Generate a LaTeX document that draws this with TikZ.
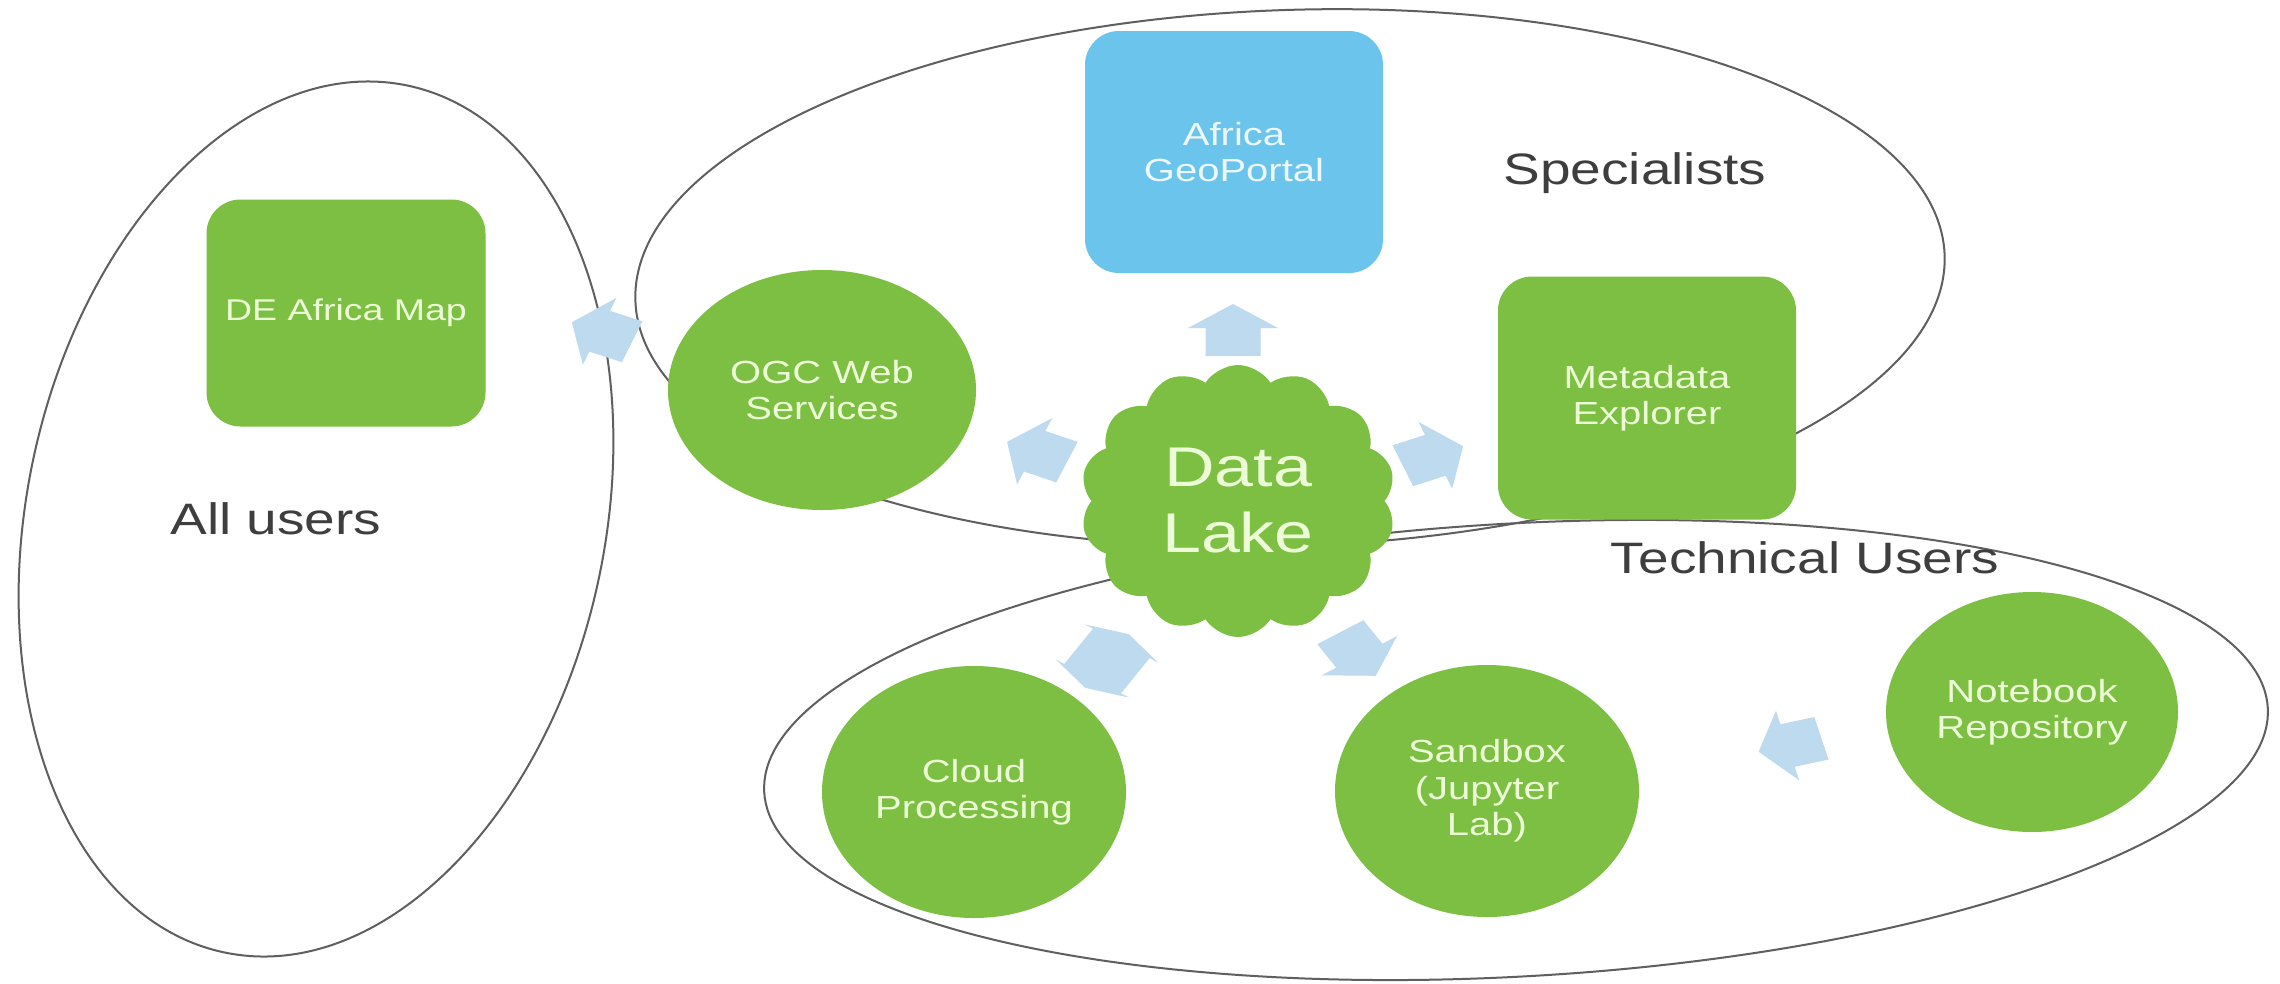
\documentclass[tikz,border=0pt]{standalone}
\usepackage{fontspec}
\setmainfont{Liberation Sans}[FakeStretch=1.25]
\usetikzlibrary{shapes.geometric,shapes.symbols}
\definecolor{dgreen}{RGB}{124,191,66}
\definecolor{dblue}{RGB}{106,196,236}
\definecolor{arrblue}{RGB}{189,218,238}
\definecolor{linegray}{RGB}{95,95,95}
\definecolor{lblgray}{RGB}{62,62,62}
\definecolor{gtext}{RGB}{236,252,214}
\definecolor{btext}{RGB}{238,247,253}
\begin{document}
\begin{tikzpicture}[x=1pt,y=-1pt,
  grp/.style={draw=linegray, line width=2pt, ellipse, inner sep=0pt},
  lbl/.style={text=lblgray, font=\fontsize{44}{50}\selectfont, inner sep=0pt},
  gbox/.style={fill=dgreen, rounded corners=34pt, inner sep=0pt, text=gtext, align=center, font=\fontsize{32}{36.5}\selectfont},
  bbox/.style={fill=dblue, rounded corners=34pt, inner sep=0pt, text=btext, align=center, font=\fontsize{32}{36.5}\selectfont},
  gcirc/.style={ellipse, fill=dgreen, inner sep=0pt, text=gtext, align=center, font=\fontsize{32}{36.5}\selectfont},
  lake/.style={cloud, cloud puffs=14, cloud puff arc=115, aspect=1.15, fill=dgreen, inner sep=0pt, text=gtext, align=center, font=\fontsize{56}{66}\selectfont},
  barrow/.pic={\fill[arrblue] (-26,-22) -- (2,-22) -- (2,-36) -- (26,0) -- (2,36) -- (2,22) -- (-26,22) -- cycle;},
  darrow/.pic={\fill[arrblue] (-32,0) -- (-21,-35) -- (-21,-27) -- (21,-27) -- (21,-35) -- (32,0) -- (21,35) -- (21,27) -- (-21,27) -- (-21,35) -- cycle;}
]
\fill[white] (0,0) rectangle (2280,983);
\useasboundingbox (0,0) rectangle (2280,983);

% user groups
\node[grp, minimum width=886pt, minimum height=578pt, rotate=78] (allusers) at (316,519) {};
\node[grp, minimum width=1310pt, minimum height=536pt, rotate=2] (specialists) at (1290,278) {};
\node[grp, minimum width=1506pt, minimum height=453pt, rotate=3.2] (technical) at (1516,750) {};

% group labels
\node[lbl] (lblall) at (276,519) {All users};
\node[lbl] (lblspec) at (1635,173) {Specialists};
\node[lbl] (lbltech) at (1805,558) {Technical Users};

% components
\node[gbox, minimum width=279pt, minimum height=227pt, font=\fontsize{30}{36}\selectfont] (demap) at (346,313) {DE Africa Map};
\node[bbox, minimum width=298pt, minimum height=242pt] (geo) at (1234,152) {Africa\\GeoPortal};
\node[gbox, minimum width=298pt, minimum height=243pt] (meta) at (1647,398) {Metadata\\Explorer};
\node[gcirc, minimum width=308pt, minimum height=240pt] (ogc) at (822,390) {OGC Web\\Services};
\node[gcirc, minimum width=304pt, minimum height=252pt] (cloudp) at (974,792) {Cloud\\Processing};
\node[gcirc, minimum width=304pt, minimum height=252pt] (sandbox) at (1487,791) {Sandbox\\(Jupyter\\Lab)};
\node[gcirc, minimum width=292pt, minimum height=240pt] (notebook) at (2032,712) {Notebook\\Repository};
\node[lake, minimum width=315pt, minimum height=272pt] (datalake) at (1238,501) {Data\\Lake};

% block arrows
\path (602,332) pic (arrde) [xscale=1.25, rotate=158] {barrow};
\path (1233,330) pic (arrgeo) [xscale=1.25, rotate=90] {barrow};
\path (1037,452) pic (arrogc) [xscale=1.25, rotate=157] {barrow};
\path (1433,456) pic (arrmeta) [xscale=1.25, rotate=22] {barrow};
\path (1107,661) pic (arrcp) [xscale=1.25, rotate=237] {darrow};
\path (1358,654) pic (arrsb) [xscale=1.25, rotate=-57] {barrow};
\path (1790,745) pic (arrnb) [xscale=1.25, rotate=195] {barrow};
\end{tikzpicture}
\end{document}
